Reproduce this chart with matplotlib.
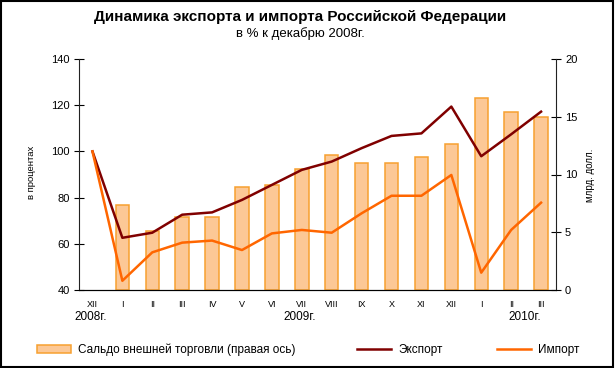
import numpy as np
import matplotlib.pyplot as plt
from matplotlib.patches import Rectangle, Patch
from matplotlib.lines import Line2D

plt.rcParams['font.family'] = ['Liberation Sans', 'DejaVu Sans']

months = ["XII", "I", "II", "III", "IV", "V", "VI", "VII", "VIII",
          "IX", "X", "XI", "XII", "I", "II", "III"]
years = ["2008г.", "2009г.", "2010г."]

# сальдо, млрд. долл. (правая ось); нет столбца для XII 2008
saldo = [np.nan, 7.4, 5.1, 6.3, 6.3, 8.9, 9.1, 10.5, 11.7,
         11.0, 11.0, 11.5, 12.6, 16.6, 15.4, 15.0]
export = [100, 62.6, 64.8, 72.6, 73.6, 79.0, 85.5, 92.0, 95.6,
          101.4, 106.7, 107.8, 119.4, 97.9, 107.4, 117.2]
imports = [100, 44.0, 56.3, 60.5, 61.4, 57.3, 64.5, 66.0, 64.8,
           73.2, 80.8, 80.8, 89.8, 47.5, 66.0, 77.8]

bar_face = "#FCC896"
bar_edge = "#F7A030"
c_exp = "#800000"
c_imp = "#FF6600"

fig = plt.figure(figsize=(6.15, 3.68), dpi=100)
ax = fig.add_axes([79/615, 1-290/368, 477/615, 231/368])
ax2 = ax.twinx()

x = np.arange(len(months))
ax2.bar(x, saldo, width=0.45, color=bar_face, edgecolor=bar_edge, linewidth=1.1)
ax.plot(x, export, color=c_exp, lw=1.8, zorder=5)
ax.plot(x, imports, color=c_imp, lw=1.8, zorder=5)

# линии поверх столбцов
ax.set_zorder(ax2.get_zorder() + 1)
ax.patch.set_visible(False)

ax.set_xlim(-0.45, len(months) - 0.5)
ax.set_ylim(40, 140)
ax2.set_ylim(0, 20)
ax.set_yticks(range(40, 141, 20))
ax2.set_yticks(range(0, 21, 5))
ax.set_xticks(x)
ax.set_xticklabels(months, fontsize=6.5)
ax.tick_params(axis='x', length=0, pad=7)
ax.tick_params(axis='y', direction='inout', length=7, labelsize=8, pad=3)
ax2.tick_params(axis='y', direction='inout', length=7, labelsize=8, pad=3)

for a in (ax, ax2):
    a.spines['top'].set_visible(False)
ax.spines['right'].set_visible(False)
ax2.spines['left'].set_visible(False)
ax2.spines['right'].set_color('#222222')
ax.spines['left'].set_color('#222222')

fig.text(31/615, 1-172/368, "в процентах", rotation=90, ha='center', va='center', fontsize=6.8)
fig.text(590/615, 1-175/368, "млрд. долл.", rotation=90, ha='center', va='center', fontsize=7)

fig.text(300/615, 1-17/368, "Динамика экспорта и импорта Российской Федерации",
         ha='center', va='center', fontsize=11, fontweight='bold')
fig.text(300/615, 1-34/368, "в % к декабрю 2008г.", ha='center', va='center', fontsize=9.5)

for px, yl in zip([91, 300, 525], years):
    fig.text(px/615, 1-317/368, yl, ha='center', va='center', fontsize=8.5)

handles = [Patch(facecolor=bar_face, edgecolor=bar_edge, linewidth=1.1),
           Line2D([], [], color=c_exp, lw=1.8),
           Line2D([], [], color=c_imp, lw=1.8)]
labels = ["Сальдо внешней торговли (правая ось)", "Экспорт", "Импорт"]
for h, l, px in zip(handles, labels, [31, 351, 491]):
    fig.legend([h], [l], loc='center left', bbox_to_anchor=(px/615, 1-350/368),
               frameon=False, fontsize=8.5, handlelength=2.9, handleheight=0.6,
               handletextpad=0.6, borderpad=0)

fig.patches.append(Rectangle((0.002, 0.003), 0.995, 0.994, transform=fig.transFigure,
                             fill=False, edgecolor='black', linewidth=1.5))

fig.savefig("out.png", dpi=100)
